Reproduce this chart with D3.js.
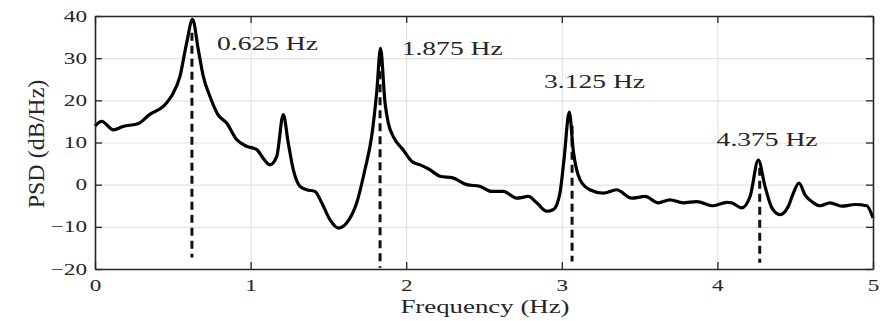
<!DOCTYPE html>
<html>
<head>
<meta charset="utf-8">
<script src="https://cdn.jsdelivr.net/npm/d3@7"></script>
<style>
  body { margin: 0; background: #fff; }
  svg text { font-family: "Liberation Serif", "DejaVu Serif", serif; fill: #262626; }
</style>
</head>
<body>
<div id="chart"></div>
<script>
var w = 884;
var h = 321;
var margin = {top: 16, right: 11, bottom: 52, left: 95};

// PSD curve
var freq = [0, 0.043, 0.118, 0.18, 0.28, 0.35, 0.44, 0.49, 0.546, 0.589, 0.627, 0.664, 0.696, 0.739, 0.79, 0.846, 0.91, 0.975,
  1.04, 1.08, 1.125, 1.168, 1.21, 1.242, 1.274, 1.317, 1.36, 1.414, 1.457, 1.51, 1.564, 1.617, 1.682, 1.735, 1.778, 1.81, 1.835, 1.864, 1.885, 1.917, 1.98,
  2.04, 2.09, 2.15, 2.217, 2.30, 2.39, 2.474, 2.55, 2.624, 2.71, 2.785, 2.839, 2.903, 2.946, 2.988,
  3.014, 3.048, 3.074, 3.117, 3.18, 3.267, 3.353, 3.449, 3.535, 3.62, 3.695, 3.78, 3.867, 3.974,
  4.06, 4.09, 4.156, 4.21, 4.263, 4.306, 4.35, 4.402, 4.456, 4.488, 4.524, 4.563, 4.617, 4.66, 4.724, 4.80, 4.884, 4.96, 5.0];
var psd = [13.9, 15.0, 13.0, 13.8, 14.5, 16.6, 18.6, 20.9, 25.7, 33.6, 39.2, 32, 25.7, 20.9, 16.6, 14.6, 10.7, 9.1,
  8.3, 6.3, 4.7, 6.7, 16.6, 9.9, 3.6, -0.4, -1.2, -1.6, -4.3, -8.3, -10.3, -9.1, -4.3, 3.6, 11.4, 21.7, 32.3, 19.4, 14.6, 11.4, 8.3,
  5.4, 4.7, 3.6, 2.0, 1.6, 0, -0.4, -1.6, -1.6, -3.2, -2.8, -4.3, -6.3, -5.9, -2.0,
  5.9, 17.2, 8, 1.2, -1.2, -2.0, -1.2, -3.2, -2.8, -4.3, -3.6, -4.3, -4.0, -5.0,
  -4.2, -4.3, -5.5, -2.8, 5.8, -0.4, -5.5, -7.1, -5.1, -2.0, 0.4, -2.4, -4.3, -5.0, -4.3, -5.1, -4.7, -5.0, -7.9];

// peak markers (dashed lines)
var peakFreq = [0.623, 1.832, 3.066, 4.272];
var peakTop = [36, 30, 14, 4];
var peakBottom = [-17.3, -19.7, -18.2, -18.5];

// peak labels
var labelText = ["0.625 Hz", "1.875 Hz", "3.125 Hz", "4.375 Hz"];
var labelFreq = [0.784, 1.971, 2.886, 3.995];
var labelPsd = [32, 30.8, 23, 9.2];

var xTicks = [0, 1, 2, 3, 4, 5];
var yTicks = [-20, -10, 0, 10, 20, 30, 40];

var data = freq.map(function(f, i) { return {f: f, v: psd[i]}; });

var xScale = d3.scaleLinear()
  .domain([0, 5])
  .range([margin.left, w - margin.right]);

var yScale = d3.scaleLinear()
  .domain([-20, 40])
  .range([h - margin.bottom, margin.top]);

var svg = d3.select("#chart")
  .append("svg")
  .attr("width", w)
  .attr("height", h);

var fmt = function(d) { return d < 0 ? "\u2212" + Math.abs(d) : String(d); };

// grid
svg.append("g")
  .attr("transform", "translate(0," + (h - margin.bottom) + ")")
  .call(d3.axisBottom(xScale).tickValues(xTicks).tickSize(-(h - margin.top - margin.bottom)).tickFormat(""))
  .call(function(g) {
    g.select(".domain").remove();
    g.selectAll("line").attr("stroke", "#e3e3e3").attr("stroke-width", 1.2);
  });
svg.append("g")
  .attr("transform", "translate(" + margin.left + ",0)")
  .call(d3.axisLeft(yScale).tickValues(yTicks).tickSize(-(w - margin.left - margin.right)).tickFormat(""))
  .call(function(g) {
    g.select(".domain").remove();
    g.selectAll("line").attr("stroke", "#e3e3e3").attr("stroke-width", 1.2);
  });

// dashed peak markers
svg.selectAll(".peak")
  .data(peakFreq)
  .enter()
  .append("line")
  .attr("class", "peak")
  .attr("x1", function(d) { return xScale(d); })
  .attr("x2", function(d) { return xScale(d); })
  .attr("y1", function(d, i) { return yScale(peakTop[i]); })
  .attr("y2", function(d, i) { return yScale(peakBottom[i]); })
  .attr("stroke", "#111")
  .attr("stroke-width", 3)
  .attr("stroke-dasharray", "8,5");

// PSD line
var line = d3.line()
  .x(function(d) { return xScale(d.f); })
  .y(function(d) { return yScale(d.v); })
  .curve(d3.curveMonotoneX);

svg.append("path")
  .datum(data)
  .attr("d", line)
  .attr("fill", "none")
  .attr("stroke", "#000")
  .attr("stroke-width", 3.2)
  .attr("stroke-linejoin", "round");

// axes with inward ticks, box style
function styleAxis(g) {
  g.select(".domain").attr("stroke", "#262626").attr("stroke-width", 1.6);
  g.selectAll(".tick line").attr("stroke", "#262626").attr("stroke-width", 1.3);
  g.selectAll("text").attr("class", "stretch").style("font-size", "16px").attr("fill", "#333");
}

svg.append("g")
  .attr("transform", "translate(0," + (h - margin.bottom) + ")")
  .call(d3.axisBottom(xScale).tickValues(xTicks).tickSizeInner(-7).tickSizeOuter(0).tickPadding(11).tickFormat(fmt))
  .call(styleAxis);

svg.append("g")
  .attr("transform", "translate(" + margin.left + ",0)")
  .call(d3.axisLeft(yScale).tickValues(yTicks).tickSizeInner(-7).tickSizeOuter(0).tickPadding(8).tickFormat(fmt))
  .call(styleAxis);

svg.append("g")
  .attr("transform", "translate(0," + margin.top + ")")
  .call(d3.axisTop(xScale).tickValues(xTicks).tickSizeInner(-7).tickSizeOuter(0).tickFormat(""))
  .call(styleAxis);

svg.append("g")
  .attr("transform", "translate(" + (w - margin.right) + ",0)")
  .call(d3.axisRight(yScale).tickValues(yTicks).tickSizeInner(-7).tickSizeOuter(0).tickFormat(""))
  .call(styleAxis);

// peak labels
svg.selectAll(".plabel")
  .data(labelText)
  .enter()
  .append("text")
  .attr("class", "stretch")
  .attr("x", function(d, i) { return xScale(labelFreq[i]); })
  .attr("y", function(d, i) { return yScale(labelPsd[i]); })
  .style("font-size", "19px")
  .text(function(d) { return d; });

// axis titles
svg.append("text")
  .attr("class", "stretch")
  .attr("x", (margin.left + w - margin.right) / 2 + 1)
  .attr("y", h - 8)
  .attr("text-anchor", "middle")
  .style("font-size", "18.5px")
  .attr("fill", "#333")
  .text("Frequency (Hz)");

svg.append("text")
  .attr("transform", "translate(44," + 144 + ") rotate(-90)")
  .attr("text-anchor", "middle")
  .style("font-size", "24px")
  .attr("fill", "#333")
  .text("PSD (dB/Hz)");

// the source figure was stretched sideways; widen horizontal text to match
svg.selectAll("text.stretch").each(function() {
  var len = this.getComputedTextLength();
  if (len > 0) {
    d3.select(this).attr("textLength", len * 1.45).attr("lengthAdjust", "spacingAndGlyphs");
  }
});
</script>
</body>
</html>
